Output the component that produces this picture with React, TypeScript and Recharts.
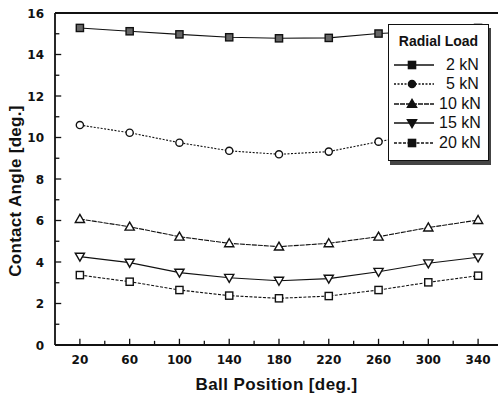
import { LineChart, Line, XAxis, YAxis, Legend, ReferenceLine } from "recharts";

const positions = [20, 60, 100, 140, 180, 220, 260, 300, 340];
const load2 = [15.28, 15.12, 14.97, 14.83, 14.78, 14.8, 15.01, 15.12, 15.28];
const load5 = [10.6, 10.23, 9.75, 9.36, 9.19, 9.32, 9.8, 10.23, 10.6];
const load10 = [6.07, 5.7, 5.22, 4.9, 4.74, 4.9, 5.22, 5.66, 6.02];
const load15 = [4.26, 3.97, 3.49, 3.24, 3.1, 3.2, 3.53, 3.94, 4.23];
const load20 = [3.37, 3.05, 2.65, 2.38, 2.25, 2.36, 2.65, 3.02, 3.34];

const xTicks = [20, 40, 60, 80, 100, 120, 140, 160, 180, 200, 220, 240, 260, 280, 300, 320, 340];
const yTicks = [0, 1, 2, 3, 4, 5, 6, 7, 8, 9, 10, 11, 12, 13, 14, 15, 16];

const data = positions.map((p, i) => ({
  pos: p, l2: load2[i], l5: load5[i], l10: load10[i], l15: load15[i], l20: load20[i],
}));

const INK = "#111";
const TICK_FONT = "'DejaVu Sans', sans-serif";
const TITLE_FONT = "'Liberation Sans', Arial, sans-serif";

type Shape = "square" | "circle" | "up" | "down";

function Marker({ cx, cy, shape, fill }: { cx: number; cy: number; shape: Shape; fill: string }) {
  const s = 3.6;
  if (shape === "square")
    return <rect x={cx - s} y={cy - s} width={s * 2} height={s * 2} fill={fill} stroke={INK} strokeWidth={1.4} />;
  if (shape === "circle") return <circle cx={cx} cy={cy} r={s} fill={fill} stroke={INK} strokeWidth={1.4} />;
  if (shape === "up")
    return <polygon points={`${cx},${cy - 4.6} ${cx + 4.6},${cy + 3.4} ${cx - 4.6},${cy + 3.4}`} fill={fill} stroke={INK} strokeWidth={1.4} />;
  return <polygon points={`${cx},${cy + 4.6} ${cx + 4.6},${cy - 3.4} ${cx - 4.6},${cy - 3.4}`} fill={fill} stroke={INK} strokeWidth={1.4} />;
}

const series = [
  { key: "l2", name: "2 kN", shape: "square" as Shape, dash: undefined, fill: "#666", pad: 7 },
  { key: "l5", name: "5 kN", shape: "circle" as Shape, dash: "2 1.5", fill: "#fff", pad: 7 },
  { key: "l10", name: "10 kN", shape: "up" as Shape, dash: "5 1", fill: "#fff", pad: 0 },
  { key: "l15", name: "15 kN", shape: "down" as Shape, dash: undefined, fill: "#fff", pad: 0 },
  { key: "l20", name: "20 kN", shape: "square" as Shape, dash: "3 1.5", fill: "#fff", pad: 0 },
];

// labels only on the even values / every 40 deg; tick marks are drawn as short segments inside the plot
function YTick(props: any) {
  const { x, y, payload } = props;
  const v = payload.value as number;
  if (v % 2 !== 0) return <g />;
  return (
    <text x={x} y={y} dy={4.5} textAnchor="end" fontFamily={TICK_FONT} fontWeight="bold" fontSize={12} fill={INK}>
      {v}
    </text>
  );
}

function XTick(props: any) {
  const { x, y, payload } = props;
  const v = payload.value as number;
  if ((v - 20) % 40 !== 0) return <g />;
  return (
    <text x={x} y={y} dy={10} textAnchor="middle" fontFamily={TICK_FONT} fontWeight="bold" fontSize={12} fill={INK}>
      {v}
    </text>
  );
}

function YTitle(props: any) {
  const { x, y, height } = props.viewBox;
  const cx = x + 15;
  const cy = y + height / 2 + 12;
  return (
    <text x={cx} y={cy} transform={`rotate(-90 ${cx} ${cy})`} textAnchor="middle" dominantBaseline="central"
      fontFamily={TITLE_FONT} fontWeight="bold" fontSize={17} fill={INK} letterSpacing={0.3}>
      Contact Angle [deg.]
    </text>
  );
}

function XTitle(props: any) {
  const { x, y, width } = props.viewBox;
  return (
    <text x={x + width / 2} y={y + 45} textAnchor="middle" fontFamily={TITLE_FONT} fontWeight="bold" fontSize={17} fill={INK}
      letterSpacing={0.4}>
      Ball Position [deg.]
    </text>
  );
}

function LegendBox() {
  return (
    <div style={{
      width: 99, height: 135, background: "#fff", border: `1.5px solid ${INK}`, boxShadow: "2px 4px 0 #444",
      fontFamily: TITLE_FONT, color: INK, boxSizing: "content-box",
    }}>
      <div style={{ fontWeight: "bold", fontSize: 14, textAlign: "center", marginTop: 8, marginBottom: 5, height: 17 }}>Radial Load</div>
      {series.map((s) => (
        <div key={s.key} style={{ display: "flex", alignItems: "center", height: 19.5 }}>
          <svg width={46} height={14} style={{ marginLeft: 4 }}>
            <line x1={1} x2={41} y1={7} y2={7} stroke={INK} strokeWidth={1.4} strokeDasharray={s.dash} />
            <Marker cx={19} cy={7} shape={s.shape} fill={INK} />
          </svg>
          <span style={{ fontSize: 16, paddingLeft: s.pad, lineHeight: "16px" }}>{s.name}</span>
        </div>
      ))}
    </div>
  );
}

export default function App() {
  return (
    <div style={{ position: "absolute", left: 0, top: 0, width: 499, height: 398, background: "#fff" }}>
      <LineChart width={499} height={398} data={data} margin={{ top: 13, right: 1, left: 0, bottom: 0 }}>
        <XAxis dataKey="pos" type="number" domain={[0, 356]} ticks={xTicks} interval={0} height={53}
          axisLine={{ stroke: INK, strokeWidth: 1.8 }} tickLine={false} tickSize={0} tickMargin={9}
          tick={<XTick />} label={<XTitle />} allowDataOverflow />
        <YAxis type="number" domain={[0, 16]} ticks={yTicks} interval={0} width={55}
          axisLine={{ stroke: INK, strokeWidth: 1.8 }} tickLine={false} tickSize={0} tickMargin={11}
          tick={<YTick />} label={<YTitle />} />
        <ReferenceLine y={16} stroke={INK} strokeWidth={1.8} />
        {xTicks.map((v) => (
          <ReferenceLine key={`xt${v}`} segment={[{ x: v, y: 0 }, { x: v, y: (v - 20) % 40 === 0 ? 0.3 : 0.2 }]}
            stroke={INK} strokeWidth={1.3} />
        ))}
        {yTicks.filter((v) => v > 0 && v < 16).map((v) => (
          <ReferenceLine key={`yt${v}`} segment={[{ x: 0, y: v }, { x: v % 2 === 0 ? 5 : 3.5, y: v }]}
            stroke={INK} strokeWidth={1.3} />
        ))}
        {series.map((s) => (
          <Line key={s.key} dataKey={s.key} name={s.name} type="linear" stroke={INK} strokeWidth={1.1}
            strokeDasharray={s.dash} isAnimationActive={false} activeDot={false}
            dot={(p: any) => <Marker key={`${s.key}-${p.index}`} cx={p.cx} cy={p.cy} shape={s.shape} fill={s.fill} />} />
        ))}
        <Legend layout="vertical" align="center" verticalAlign="middle" content={<LegendBox />}
          wrapperStyle={{ position: "absolute", left: 388, top: 24, width: "auto" }} />
      </LineChart>
    </div>
  );
}
